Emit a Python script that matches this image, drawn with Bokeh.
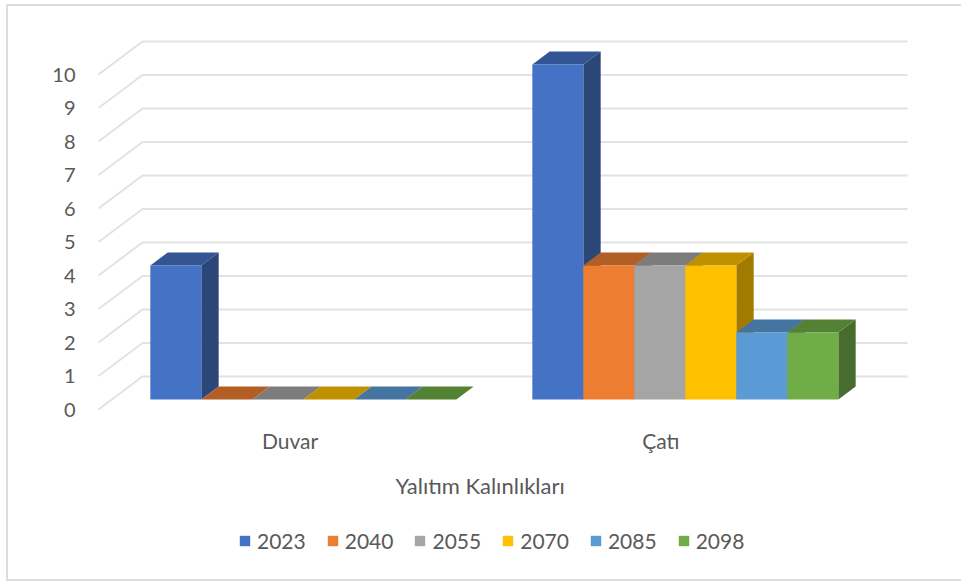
from bokeh.plotting import figure
from bokeh.models import FixedTicker, Legend, LegendItem, Range1d, ColumnDataSource, Label
from bokeh.embed import file_html
from bokeh.resources import INLINE

categories = ["Duvar", "Çatı"]
years = ["2023", "2040", "2055", "2070", "2085", "2098"]
v2023 = [4, 10]
v2040 = [0, 4]
v2055 = [0, 4]
v2070 = [0, 4]
v2085 = [0, 2]
v2098 = [0, 2]
series = [v2023, v2040, v2055, v2070, v2085, v2098]
y_ticks = list(range(0, 11))
axis_title = "Yalıtım Kalınlıkları"

front_colors = ["#4472C4", "#ED7D31", "#A5A5A5", "#FFC000", "#5B9BD5", "#70AD47"]
top_colors = ["#335593", "#B25E25", "#7C7C7C", "#BF9000", "#44749F", "#548235"]
side_colors = ["#2A4778", "#8E4E1F", "#686868", "#A37A00", "#396285", "#466D2D"]
TEXT = "#595959"
GRID = "#E2E2E2"
FRAME = "#DDDDDD"

# geometry of the oblique projection (pixels per unit)
PX_CAT = 382.0
PX_V = 33.5
OX, OY = 8, 6                       # page position of the figure
W, H = 961, 579                     # page position of its right and bottom edges
FL, FR, FT, FB = 85, 950, 10, 565   # plot frame in page pixels
X0_PX, V0_PX = 289.5, 409.0         # pixel of first category, of value 0 on the front plane
DX = 44.0 / PX_CAT                  # full-depth x shift in data units
DY = 33.0 / PX_V                    # full-depth y shift in data units
BAR_W = 51.0 / PX_CAT
D0, D1 = 0.303, 0.697               # bars occupy this slice of the depth
WALL_X0 = (98 - X0_PX) / PX_CAT
WALL_X1 = (907 - X0_PX) / PX_CAT
LABEL_POS = [0, 0.971]
LEGEND_LEFT, LEGEND_BOTTOM = 238, 553
XAXIS_PX = 414
TITLE_LEFT_PX, TITLE_MID_PX = 395, 485

p = figure(frame_width=FR - FL, frame_height=FB - FT, output_backend="svg", toolbar_location=None,
           x_range=Range1d((FL - X0_PX) / PX_CAT, (FR - X0_PX) / PX_CAT),
           y_range=Range1d((V0_PX - FB) / PX_V, (V0_PX - FT) / PX_V),
           min_border_left=FL - OX, min_border_right=W - FR, min_border_top=FT - OY, min_border_bottom=H - FB,
           styles={"position": "absolute", "left": f"{OX}px", "top": f"{OY}px",
                   "outline": f"2px solid {FRAME}"})
p.outline_line_color = None
p.grid.visible = False
p.background_fill_color = "white"
p.border_fill_color = "white"

# walls: gridlines with diagonal running from the front plane to the back wall
gx = [[WALL_X0, WALL_X0 + DX, WALL_X1] for _ in y_ticks]
gy = [[t, t + DY, t + DY] for t in y_ticks]
p.multi_line(gx, gy, line_color=GRID, line_width=2)

items = []
for s, (vals, year) in enumerate(zip(series, years)):
    lefts = [c - 3 * BAR_W + s * BAR_W + D0 * DX for c in range(len(categories))]
    rights = [l + BAR_W for l in lefts]
    dx = (D1 - D0) * DX
    base = D0 * DY
    dy = (D1 - D0) * DY
    side_x = [[r, r + dx, r + dx, r] for r in rights]
    side_y = [[base, base + dy, base + dy + v, base + v] for v in vals]
    top_x = [[l, l + dx, r + dx, r] for l, r in zip(lefts, rights)]
    top_y = [[base + v, base + v + dy, base + v + dy, base + v] for v in vals]
    p.patches(side_x, side_y, fill_color=side_colors[s], line_color=None)
    p.patches(top_x, top_y, fill_color=top_colors[s], line_color=None)
    src = ColumnDataSource(dict(x=[l + BAR_W / 2 for l in lefts], top=[base + v for v in vals], bottom=[base] * len(vals)))
    r = p.vbar(x="x", top="top", bottom="bottom", width=BAR_W, source=src,
               fill_color=front_colors[s], line_color=None)
    items.append(LegendItem(label=year, renderers=[r]))

p.yaxis.ticker = FixedTicker(ticks=y_ticks)
p.yaxis.axis_line_color = None
p.yaxis.major_tick_line_color = None
p.yaxis.minor_tick_line_color = None
p.yaxis.major_label_standoff = 4
p.yaxis.major_label_text_color = TEXT
p.yaxis.major_label_text_font = "Lato"
p.yaxis.major_label_text_font_size = "20px"

p.xaxis.fixed_location = (V0_PX - XAXIS_PX) / PX_V
p.xaxis.ticker = FixedTicker(ticks=LABEL_POS)
p.xaxis.major_label_overrides = {pos: c for pos, c in zip(LABEL_POS, categories)}
p.xaxis.axis_line_color = None
p.xaxis.major_tick_line_color = None
p.xaxis.minor_tick_line_color = None
p.xaxis.major_label_standoff = 7
p.xaxis.major_label_text_color = TEXT
p.xaxis.major_label_text_font = "Lato"
p.xaxis.major_label_text_font_size = "21px"

p.add_layout(Label(x=(TITLE_LEFT_PX - X0_PX) / PX_CAT, y=(V0_PX - TITLE_MID_PX) / PX_V, text=axis_title,
                   text_baseline="middle", text_align="left",
                   text_color=TEXT, text_font="Lato", text_font_style="normal", text_font_size="22px"))

legend = Legend(items=items, orientation="horizontal", location=(LEGEND_LEFT - FL, FB - LEGEND_BOTTOM),
                glyph_width=13, glyph_height=13, label_standoff=6, spacing=20,
                border_line_color=None, background_fill_color=None, margin=0, padding=0,
                label_text_color=TEXT, label_text_font="Lato", label_text_font_size="21px")
p.add_layout(legend, "center")

open("out.html", "w").write(file_html(p, INLINE))
